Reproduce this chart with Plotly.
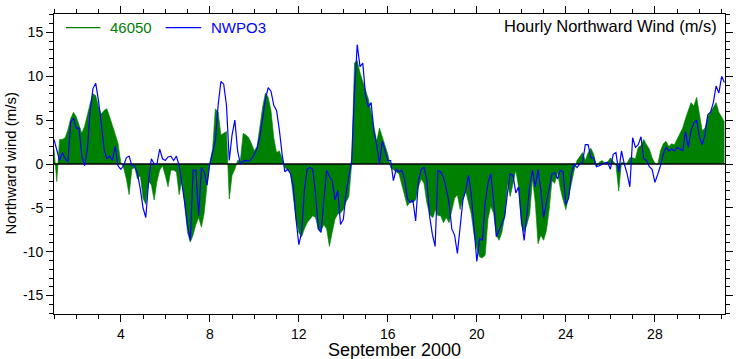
import numpy as np
import plotly.graph_objects as go

# ---------------- data (3-hourly samples) ----------------
START_DAY = 1          # 1 September 2000, 00 UTC
STEP_HOURS = 3

S46050 = [
    1.7, -2.0, 2.8, 2.8, 3.0, 3.9, 5.2, 5.9,
    5.4, 4.3, 3.5, 4.3, 5.7, 6.9, 8.0, 7.8,
    6.5, 5.7, 6.1, 6.3, 5.4, 4.4, 3.3, 2.4,
    0.2, -0.4, -1.7, -3.5, -0.6, -0.4, -1.7, -1.3,
    -3.9, -4.6, -2.0, -2.4, -4.1, -2.0, -0.7, -0.2,
    -1.3, -2.6, -0.7, -0.7, -0.9, -3.5, -1.7, -4.4,
    -7.8, -8.9, -8.1, -6.9, -6.1, -7.2, -5.6, -2.4,
    0.1, 1.7, 6.3, 5.9, 3.3, 3.5, 3.7, -4.0,
    -1.3, -0.6, 0.4, 0.4, 3.5, 3.3, 3.0, 2.3,
    1.5, 2.0, 4.4, 6.5, 8.1, 7.6, 6.1, 3.0,
    1.3, 1.5, 0.6, -0.4, -0.7, -0.9, -3.7, -6.3,
    -7.8, -8.3, -7.4, -6.7, -6.3, -5.9, -6.1, -7.4,
    -7.6, -6.9, -7.4, -9.4, -7.8, -6.3, -5.7, -5.6,
    -5.2, -4.3, -3.7, 0.0, 11.5, 11.8, 10.4, 9.3,
    8.5, 7.4, 5.9, 4.1, 2.6, 4.1, 3.1, 1.9,
    1.1, -0.4, -0.7, -0.9, -1.1, -2.4, -3.7, -4.8,
    -4.3, -4.4, -4.1, -2.6, -1.7, -2.2, -4.4, -5.7,
    -6.1, -5.2, -5.9, -5.9, -6.7, -6.1, -6.7, -5.2,
    -3.9, -3.5, -5.2, -3.9, -3.1, -4.4, -5.7, -8.1,
    -9.6, -10.6, -10.7, -10.4, -6.3, -4.8, -5.6, -8.1,
    -8.7, -7.8, -6.0, -2.2, -3.7, -2.2, -0.7, -2.6,
    -6.9, -7.8, -6.9, -5.7, -1.7, -4.4, -9.1, -8.1,
    -8.7, -7.6, -5.2, -1.9, -2.2, -0.9, -2.8, -4.1,
    -5.2, -3.7, -2.0, -0.7, 0.4, 0.9, 1.3, 0.4,
    1.3, 1.8, 1.1, -0.3, 0.2, 0.4, 0.1, 0.2,
    0.7, 0.3, -0.1, -3.1, 0.2, 0.1, 0.1, 0.7,
    0.7, 0.6, 1.9, 2.1, 2.8, 2.2, 1.7, 0.7,
    0.1, -0.1, 1.5, 2.3, 2.6, 2.0, 2.3, 2.2,
    2.9, 3.4, 4.1, 5.2, 6.1, 7.0, 6.6, 7.6,
    5.7, 3.8, 4.1, 5.4, 5.9, 6.5, 7.0, 5.9,
    5.4, 4.8,
]

NWPO3 = [
    2.8, 1.7, 0.4, 1.3, 0.6, 0.2, 4.8, 5.2,
    4.1, 4.1, 0.9, -0.2, 1.7, 6.1, 8.6, 9.2,
    7.2, 4.6, 1.7, 0.6, 0.9, 0.4, 2.0, -0.2,
    -0.6, -0.2, 0.7, 0.9, -0.2, -0.2, -1.1, -2.8,
    -5.0, -6.1, -2.0, 0.6, 0.0, 0.0, 1.7, 0.6,
    0.4, 0.8, 0.9, 0.4, 0.9, -0.2, -2.2, -4.4,
    -7.0, -8.7, -0.7, -0.7, -5.9, -0.4, -0.9, -2.4,
    0.0, 1.3, 2.6, 6.7, 9.4, 9.1, 6.7, 0.4,
    3.3, 5.0, 1.5, 0.0, 0.3, 0.4, 0.3, 0.6,
    1.1, 1.8, 3.1, 5.2, 7.4, 8.7, 8.3, 6.7,
    6.1, 3.9, 1.1, -0.9, -0.6, -1.1, -2.6, -6.3,
    -9.2, -7.8, -3.0, -0.6, -0.4, -0.6, -3.3, -7.4,
    -7.8, -4.1, -0.7, -1.4, -1.9, -4.1, -3.0, -6.9,
    -6.3, -3.3, -1.5, 0.4, 8.1, 13.6, 11.1, 11.5,
    7.8, 6.5, 7.0, 3.7, 2.2, 0.0, 2.6, 1.5,
    0.4, 0.4, -1.9, -0.6, -0.9, -0.7, -1.7, -3.9,
    -4.4, -4.1, -6.5, -1.9, -0.6, -0.4, -1.7, -5.9,
    -8.0, -9.4, -0.7, -0.9, -1.5, -2.8, -4.4, -7.4,
    -8.1, -10.2, -7.4, -4.1, -3.0, -1.3, -3.5, -7.8,
    -11.1, -8.5, -8.7, -4.4, -2.2, -1.1, -4.1, -8.3,
    -7.6, -6.7, -6.0, -3.3, -1.1, -1.3, -3.3, -2.6,
    -6.3, -8.7, -5.2, -2.6, -0.7, -2.6, -0.6, -3.0,
    -6.1, -4.3, -2.9, -1.1, -1.0, -1.7, -0.7, -0.9,
    -4.6, -3.9, -1.1, 0.0, -0.4, 0.0, 0.2, 2.2,
    2.2, 0.7, 0.7, -0.3, -0.2, 0.0, 0.1, 0.2,
    -0.6, 1.1, 1.3, -0.9, 1.5, 0.0, -1.1, -2.6,
    3.0, 1.9, 2.2, 3.1, 0.6, 0.4, -0.3, -0.6,
    -2.1, -1.2, -0.2, 1.1, 1.9, 1.5, 1.7, 1.5,
    1.9, 1.7, 1.5, 3.7, 1.9, 3.8, 4.7, 5.0,
    3.1, 2.2, 3.3, 5.6, 5.9, 7.0, 8.9, 8.1,
    10.0, 9.3,
]

# short data gap in the buoy record (18 Sept ~01 UTC)
GAP_DAYS = [18.02, 18.035, 18.05]
GAP_46050 = [-6.1, None, -6.0]

XTICKS = [4, 8, 12, 16, 20, 24, 28]
YTICKS = [-15, -10, -5, 0, 5, 10, 15]
X_RANGE = [1, 31.15]
Y_RANGE = [-17.1, 17.1]

SERIES_NAMES = ["46050", "NWPO3"]
GREEN = "#008000"
BLUE = "#0000ff"

# ---------------- build ----------------
days = START_DAY + np.arange(len(NWPO3)) * STEP_HOURS / 24.0
idx = int(np.searchsorted(days, GAP_DAYS[0]))
g_x = np.concatenate([days[:idx], GAP_DAYS, days[idx:]])
g_y = np.concatenate([np.array(S46050[:idx], float),
                      np.array([np.nan if v is None else v for v in GAP_46050]),
                      np.array(S46050[idx:], float)])

fig = go.Figure()
fig.add_trace(go.Scatter(x=g_x, y=g_y, mode="lines", name=SERIES_NAMES[0],
                         line=dict(color=GREEN, width=0.6), fill="tozeroy",
                         fillcolor=GREEN, connectgaps=False, showlegend=False,
                         hoverinfo="skip"))
fig.add_trace(go.Scatter(x=X_RANGE, y=[0, 0], mode="lines",
                         line=dict(color="black", width=1.6),
                         showlegend=False, hoverinfo="skip"))
fig.add_trace(go.Scatter(x=days, y=NWPO3, mode="lines", name=SERIES_NAMES[1],
                         line=dict(color=BLUE, width=1.2), showlegend=False))

L, R, T, B = 54, 6, 6, 45
W, H = 739, 359
pw, ph = W - L - R, H - T - B


def px(x):
    return (x - L) / pw


def py(y):
    return (H - B - y) / ph


sans = "Liberation Sans, Arial, Helvetica, sans-serif"

axis_common = dict(showline=True, linecolor="black", linewidth=1, mirror="allticks",
                   ticks="outside", ticklen=7, tickwidth=1, tickcolor="black",
                   showgrid=False, zeroline=False)

fig.update_layout(
    width=W, height=H,
    margin=dict(l=L, r=R, t=T, b=B, pad=0),
    plot_bgcolor="white", paper_bgcolor="white",
    xaxis=dict(range=X_RANGE, tickvals=XTICKS, ticktext=[str(v) for v in XTICKS],
               tickfont=dict(family=sans, size=14, color="black"),
               minor=dict(dtick=1, tick0=1, ticks="outside", ticklen=4,
                          tickcolor="black", showgrid=False),
               **axis_common),
    yaxis=dict(range=Y_RANGE, tickvals=YTICKS, ticktext=[str(v) for v in YTICKS],
               tickfont=dict(family=sans, size=14, color="black"),
               minor=dict(dtick=1, tick0=0, ticks="outside", ticklen=4,
                          tickcolor="black", showgrid=False),
               **axis_common),
    showlegend=False,
    shapes=[
        dict(type="line", xref="paper", yref="paper", x0=px(66), x1=px(101),
             y0=py(20), y1=py(20), line=dict(color=GREEN, width=1.2)),
        dict(type="line", xref="paper", yref="paper", x0=px(167), x1=px(203),
             y0=py(20), y1=py(20), line=dict(color=BLUE, width=1.2)),
    ],
    annotations=[
        dict(text=SERIES_NAMES[0], xref="paper", yref="paper", x=px(109), y=py(20),
             xanchor="left", yanchor="middle", showarrow=False,
             font=dict(family=sans, size=15, color=GREEN)),
        dict(text=SERIES_NAMES[1], xref="paper", yref="paper", x=px(211), y=py(20),
             xanchor="left", yanchor="middle", showarrow=False,
             font=dict(family=sans, size=15, color=BLUE)),
        dict(text="Hourly Northward Wind (m/s)", xref="paper", yref="paper",
             x=px(727), y=py(18), xanchor="right", yanchor="middle", showarrow=False,
             font=dict(family=sans, size=16.5, color="black")),
        dict(text="September 2000", xref="paper", yref="paper",
             x=px(399), y=py(351), xanchor="center", yanchor="middle", showarrow=False,
             font=dict(family=sans, size=18, color="black")),
        dict(text="Northward wind (m/s)", xref="paper", yref="paper",
             x=px(10), y=py(159), xanchor="center", yanchor="middle", showarrow=False,
             textangle=-90, font=dict(family=sans, size=15, color="black")),
    ],
)

fig.write_html("out.html", config={"displayModeBar": False},
               post_script="document.body.style.margin='0';document.body.style.padding='0';")
